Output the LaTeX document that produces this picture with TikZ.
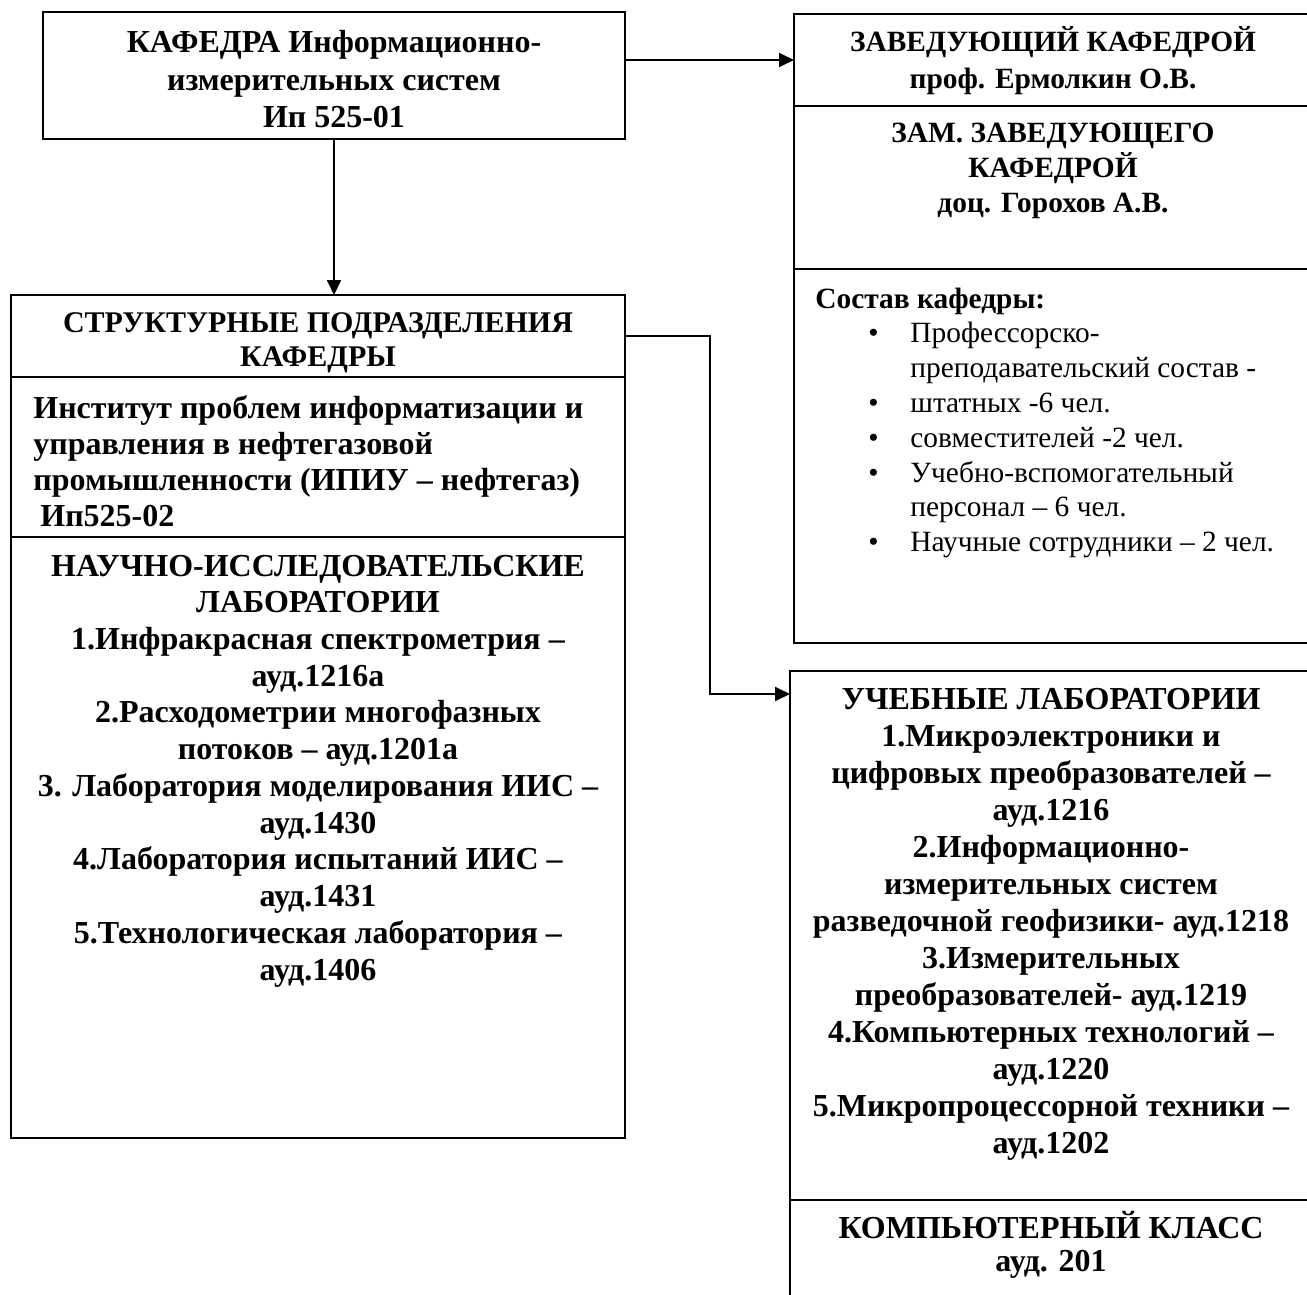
\documentclass[tikz,border=0pt]{standalone}
\usepackage{fontspec}
\setmainfont{Liberation Serif}
\usetikzlibrary{arrows.meta,positioning}
\newcommand{\bul}{\hspace*{26.5pt}\makebox[21pt][l]{\textbullet}}
\newcommand{\ind}{\hspace*{47.5pt}}

\begin{document}
\begin{tikzpicture}[x=1pt,y=-1pt,
  cell/.style={draw,line width=1.1pt,anchor=north west,inner sep=0pt,outer sep=0pt},
  txt/.style={anchor=base,inner sep=0pt,align=center,font=\bfseries\fontsize{16}{18.4}\selectfont},
  link/.style={line width=0.9pt,-{Triangle[length=7.5pt,width=7pt]}}]
\useasboundingbox (0,0) rectangle (653.5,647.5);
\clip (0,0) rectangle (653.5,647.5);

% boxes
\node[cell,minimum width=291pt,minimum height=63.5pt](kaf)at(21.5,6){};
\node[cell,minimum width=307pt,minimum height=41pt](struct)at(5.5,147.5){};
\node[cell,minimum width=307pt,minimum height=80pt](inst)at(5.5,188.5){};
\node[cell,minimum width=307pt,minimum height=300.5pt](nir)at(5.5,268.5){};
\node[cell,minimum width=259pt,minimum height=46pt](zav)at(397,7){};
\node[cell,minimum width=259pt,minimum height=81.5pt](zam)at(397,53){};
\node[cell,minimum width=259pt,minimum height=187pt](sostav)at(397,134.5){};
\node[cell,minimum width=261pt,minimum height=264.5pt](ucheb)at(395,335.5){};
\node[cell,minimum width=261pt,minimum height=60pt](comp)at(395,600){};

% texts (base = last line)
\node[txt,font=\bfseries\fontsize{16}{18.5}\selectfont](kaftxt)at([yshift=-57.5pt]kaf.north){КАФЕДРА Информационно-\\измерительных систем\\Ип 525-01};
\node[txt,font=\bfseries\fontsize{15}{17}\selectfont](structtxt)at([yshift=-35.5pt]struct.north){СТРУКТУРНЫЕ ПОДРАЗДЕЛЕНИЯ\\КАФЕДРЫ};
\node[txt,anchor=base west,align=left,font=\bfseries\fontsize{16}{18}\selectfont](insttxt)at([xshift=11pt,yshift=-74.5pt]inst.north west){Институт проблем информатизации и\\управления в нефтегазовой\\промышленности (ИПИУ – нефтегаз)\\\hspace*{3.5pt}Ип525-02};
\node[txt,font=\bfseries\fontsize{16}{18.36}\selectfont](nirtxt)at([yshift=-221.5pt]nir.north){НАУЧНО-ИССЛЕДОВАТЕЛЬСКИЕ\\ЛАБОРАТОРИИ\\1.Инфракрасная спектрометрия –\\ауд.1216а\\2.Расходометрии многофазных\\потоков – ауд.1201а\\3. Лаборатория моделирования ИИС –\\ауд.1430\\4.Лаборатория испытаний ИИС –\\ауд.1431\\5.Технологическая лаборатория –\\ауд.1406};
\node[txt,font=\bfseries\fontsize{14.7}{18.5}\selectfont](zavtxt)at([yshift=-37.5pt]zav.north){ЗАВЕДУЮЩИЙ КАФЕДРОЙ\\проф. Ермолкин О.В.};
\node[txt,font=\bfseries\fontsize{14.7}{17.5}\selectfont](zamtxt)at([yshift=-53.5pt]zam.north){ЗАМ. ЗАВЕДУЮЩЕГО\\КАФЕДРОЙ\\доц. Горохов А.В.};
\node[txt,anchor=base west,align=left,font=\fontsize{14.7}{17.4}\selectfont](sostavtxt)at([xshift=10.5pt,yshift=-141.3pt]sostav.north west){\textbf{Состав кафедры:}\\
  \bul Профессорско-\\
  \ind преподавательский состав -\\
  \bul штатных -6 чел.\\
  \bul совместителей -2 чел.\\
  \bul Учебно-вспомогательный\\
  \ind персонал – 6 чел.\\
  \bul Научные сотрудники – 2 чел.};
\node[txt,font=\bfseries\fontsize{16}{18.5}\selectfont](uchebtxt)at([yshift=-241pt]ucheb.north){УЧЕБНЫЕ ЛАБОРАТОРИИ\\1.Микроэлектроники и\\цифровых преобразователей –\\ауд.1216\\2.Информационно-\\измерительных систем\\разведочной геофизики- ауд.1218\\3.Измерительных\\преобразователей- ауд.1219\\4.Компьютерных технологий –\\ауд.1220\\5.Микропроцессорной техники –\\ауд.1202};
\node[txt,font=\bfseries\fontsize{16}{16.5}\selectfont](comptxt)at([yshift=-35.5pt]comp.north){КОМПЬЮТЕРНЫЙ КЛАСС\\ауд. 201};

% connectors
\draw[link](kaf.east |- zav.west)--(zav.west);
\draw[link](kaf.south)--(kaf.south |- struct.north);
\coordinate(turn)at(355,347);
\draw[link](struct.east)-|(turn)--(ucheb.west |- turn);
\end{tikzpicture}
\end{document}
